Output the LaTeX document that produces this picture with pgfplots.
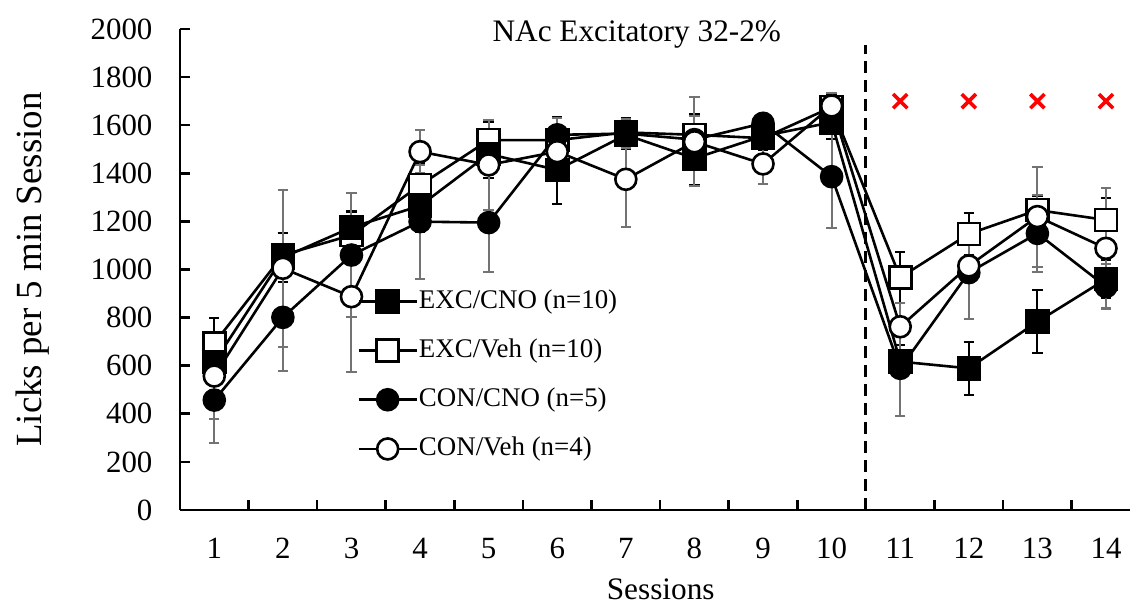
\documentclass[border=0pt]{standalone}
\usepackage{fontspec}
\setmainfont{Liberation Serif}
\usepackage{pgfplots}
\usepackage{pgfplotstable}
\pgfplotsset{compat=1.18}
\definecolor{errgray}{RGB}{115,115,115}

% session, mean and SEM for each group
\pgfplotstableread{
s  ec   ecE  ev   evE  cc   ccE  cv   cvE
1  615  90   693  104  457  180  557  180
2  1050 100  1060 90   801  222  1005 326
3  1175 70   1143 95   1060 258  887  312
4  1265 108  1351 90   1199 237  1490 90
5  1480 100  1538 77   1195 204  1435 188
6  1414 140  1538 95   1560 70   1490 100
7  1560 60   1570 60   1565 60   1375 197
8  1462 110  1560 87   1540 100  1531 185
9  1555 60   1546 50   1608 40   1439 85
10 1612 70   1675 55   1386 215  1680 55
11 617  70   967  107  589  198  762  97
12 589  110  1148 86   987  193  1015 40
13 783  130  1247 60   1150 160  1220 208
14 960  80   1206 90   929  93   1088 250
}\data

\begin{document}
\begin{tikzpicture}
\begin{axis}[
  at={(90bp,47.5bp)}, anchor=south west,
  scale only axis,
  width=475bp, height=240.5bp,
  xmin=0.5, xmax=14.35,
  ymin=0, ymax=2000,
  clip=false,
  axis lines=left,
  axis line style={-, line width=1.3bp},
  tick align=inside,
  tick style={black, line width=1.3bp},
  major tick length=5bp,
  % tick marks sit between sessions, labels at the sessions
  xtick={0.5,1.5,...,13.5},
  xticklabels={},
  extra x ticks={1,...,14},
  extra x tick style={major tick length=0pt},
  ytick={0,200,...,2000},
  /pgf/number format/assume math mode=true,
  /pgf/number format/set thousands separator={},
  xticklabel style={font=\fontsize{15.5}{18}\selectfont, anchor=north, inner sep=0pt, yshift=-14bp},
  yticklabel style={font=\fontsize{15.5}{18}\selectfont, anchor=east, inner sep=0pt, xshift=-13.6bp},
  xlabel={Sessions},
  ylabel={Licks per 5 min Session},
  every axis x label/.style={at={(rel axis cs:0.506,0)}, anchor=base, yshift=-44.5bp,
    font=\fontsize{15.7}{18}\selectfont},
  every axis y label/.style={at={(rel axis cs:-0.155,0.5)}, rotate=90, anchor=center,
    font=\fontsize{18.5}{20}\selectfont},
  legend image code/.code={\draw[mark repeat=2,mark phase=2,#1]
    plot coordinates {(0bp,0bp) (14.5bp,0bp) (29bp,0bp)};},
  legend style={at={(rel axis cs:0.180,0.472)}, anchor=north west,
    draw=none, fill=none, font=\fontsize{13.5}{16}\selectfont,
    row sep=10.6bp,
    nodes={inner sep=0.5bp, text height=10bp, text depth=3bp}},
  legend cell align=left,
]
% legend entries in the reference order
\addlegendimage{black, line width=1.3bp, mark=square*, mark size=5.5bp, mark options={fill=black, solid}}
\addlegendentry{EXC/CNO (n=10)}
\addlegendimage{black, line width=1.3bp, mark=square*, mark size=5.5bp, mark options={fill=white, solid}}
\addlegendentry{EXC/Veh (n=10)}
\addlegendimage{black, line width=1.3bp, mark=*, mark size=5.25bp, mark options={fill=black, solid}}
\addlegendentry{CON/CNO (n=5)}
\addlegendimage{black, line width=1.3bp, mark=*, mark size=5.25bp, mark options={fill=white, solid}}
\addlegendentry{CON/Veh (n=4)}

% dashed divider and significance marks
\addplot[forget plot, black, line width=1.5bp, dash pattern=on 6bp off 3.5bp]
  coordinates {(10.5,0) (10.5,1935)};

\addplot[forget plot, black, line width=1.3bp, mark=square*, mark size=5.5bp,
  mark options={fill=white, solid},
  error bars/.cd, y dir=both, y explicit,
  error bar style={black, line width=1bp},
  error mark options={black, line width=1bp, mark size=2.6bp, rotate=90}]
  table[x=s, y=ev, y error=evE] {\data};
\addplot[forget plot, black, line width=1.3bp, mark=square*, mark size=5.5bp,
  mark options={fill=black, solid},
  error bars/.cd, y dir=both, y explicit,
  error bar style={black, line width=1bp},
  error mark options={black, line width=1bp, mark size=2.6bp, rotate=90}]
  table[x=s, y=ec, y error=ecE] {\data};
\addplot[forget plot, black, line width=1.3bp, mark=*, mark size=5.25bp,
  mark options={fill=black, solid},
  error bars/.cd, y dir=both, y explicit,
  error bar style={errgray, line width=1bp},
  error mark options={errgray, line width=1bp, mark size=2.6bp, rotate=90}]
  table[x=s, y=cc, y error=ccE] {\data};
\addplot[forget plot, black, line width=1.3bp, mark=*, mark size=5.25bp,
  mark options={fill=white, solid},
  error bars/.cd, y dir=both, y explicit,
  error bar style={errgray, line width=1bp},
  error mark options={errgray, line width=1bp, mark size=2.6bp, rotate=90}]
  table[x=s, y=cv, y error=cvE] {\data};

\addplot[forget plot, only marks, red, mark=x, mark size=5bp, mark options={line width=1.8bp}]
  coordinates {(11,1700) (12,1700) (13,1700) (14,1700)};

\node[font=\fontsize{15.7}{18}\selectfont, anchor=base] at (axis cs:7.16,1946) {NAc Excitatory 32-2\%};
\end{axis}
\pgfresetboundingbox
\path[use as bounding box] (0,0) rectangle (565bp,302.5bp);
\end{tikzpicture}
\end{document}
